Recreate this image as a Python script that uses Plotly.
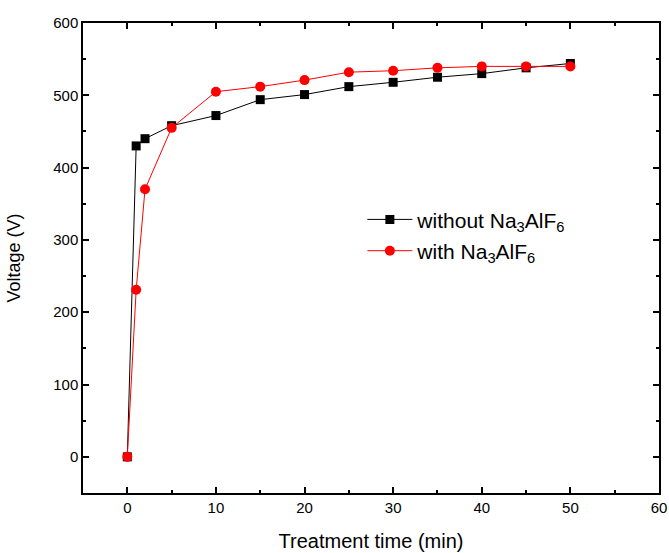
import plotly.graph_objects as go

# Treatment time (min) and measured voltage (V)
time_min = [0, 1, 2, 5, 10, 15, 20, 25, 30, 35, 40, 45, 50]
v_without = [0, 430, 440, 458, 472, 494, 501, 512, 518, 525, 530, 538, 544]
v_with = [0, 231, 370, 455, 505, 512, 521, 532, 534, 538, 540, 540, 540]

FONT = "Liberation Sans, Arial, sans-serif"

fig = go.Figure()
fig.add_trace(go.Scatter(
    x=time_min, y=v_without, mode="lines+markers",
    name="without Na<sub>3</sub>AlF<sub>6</sub>", legendgroup="a",
    line=dict(color="black", width=1),
    marker=dict(symbol="square", size=9, color="black"),
))
fig.add_trace(go.Scatter(
    x=time_min, y=v_with, mode="lines+markers",
    name="with Na<sub>3</sub>AlF<sub>6</sub>", legendgroup="b",
    line=dict(color="red", width=1),
    marker=dict(symbol="circle", size=10, color="red"),
))

axis_common = dict(
    showline=True, linecolor="black", linewidth=1.5, mirror="ticks",
    ticks="inside", ticklen=6, tickwidth=1.5, tickcolor="black",
    showgrid=False, zeroline=False, automargin=False,
    tickfont=dict(family=FONT, size=15, color="black"),
)

fig.update_xaxes(
    range=[-5, 60], tickvals=[0, 10, 20, 30, 40, 50, 60],
    minor=dict(ticks="inside", ticklen=3, tickwidth=1.5, tickcolor="black", dtick=5, tick0=0),
    title=dict(text="Treatment time (min)", font=dict(family=FONT, size=20, color="black"), standoff=19),
    **axis_common,
)
fig.update_yaxes(
    range=[-50, 600], tickvals=[0, 100, 200, 300, 400, 500, 600],
    minor=dict(ticks="inside", ticklen=3, tickwidth=1.5, tickcolor="black", dtick=50, tick0=0),
    title=dict(text="Voltage (V)", font=dict(family=FONT, size=18, color="black"), standoff=28),
    **axis_common,
)

fig.update_layout(
    width=669, height=553,
    margin=dict(l=83, r=10, t=23, b=60),
    plot_bgcolor="white", paper_bgcolor="white",
    font=dict(family=FONT, color="black"),
    legend=dict(
        x=0.485, y=0.625, xanchor="left", yanchor="top",
        bgcolor="rgba(0,0,0,0)", itemwidth=45,
        font=dict(family=FONT, size=21, color="black"),
        tracegroupgap=1,
    ),
)

fig.write_html("out.html")
